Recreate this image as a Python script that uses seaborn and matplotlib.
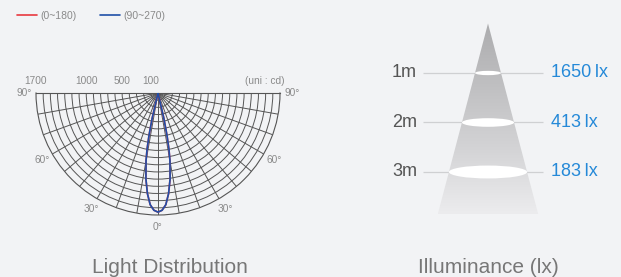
import numpy as np
import pandas as pd
import matplotlib
matplotlib.use("Agg")
import matplotlib.pyplot as plt
from matplotlib.colors import LinearSegmentedColormap
from matplotlib.patches import Polygon, Ellipse
import seaborn as sns

# ---- data -------------------------------------------------------------
BEAM_DEG = [-14, -13, -12, -11, -10, -8, -6, -4, -2, 0,
            2, 4, 6, 8, 10, 11, 12, 13, 14]
CD_0_180 = [0, 360, 600, 800, 960, 1210, 1410, 1560, 1635, 1660,
            1635, 1560, 1410, 1210, 960, 800, 600, 360, 0]
CD_90_270 = [0, 360, 600, 800, 960, 1210, 1410, 1560, 1635, 1660,
             1635, 1560, 1410, 1210, 960, 800, 600, 360, 0]
RING_CD = list(range(100, 1700, 100))
R_MAX = 1700
R_LABELS = [1700, 1000, 500, 100]
ANGLE_LABELS = [-90, -60, -30, 0, 30, 60, 90]

DISTANCES = [1, 2, 3]
DIST_LABELS = ["1m", "2m", "3m"]
LUX = [1650, 413, 183]
BEAM_ANGLE = 29.5      # full cone angle, degrees

# ---- style ------------------------------------------------------------
BG = "#f2f3f5"
GRID = "#555555"
LABEL = "#8a8a8a"
RED = "#e8383f"
BLUE = "#1f4fa8"
VALUE = "#2589d8"
FONT = ["Liberation Sans", "DejaVu Sans"]

sns.set_style("white")
plt.rcParams["font.family"] = FONT

W, H = 621, 277
fig = plt.figure(figsize=(W / 100, H / 100), dpi=100, facecolor=BG)


def px_rect(l, t, r, b):
    return [l / W, 1 - b / H, (r - l) / W, (b - t) / H]


# ---- left: polar light distribution ----------------------------------
# square box, the half disc sits in its middle
axp = fig.add_axes(px_rect(36, 32, 280, 276), projection="polar")
axp.set_facecolor(BG)
axp.set_theta_zero_location("S")
axp.set_thetamin(-90)
axp.set_thetamax(90)

df_red = pd.DataFrame({"theta": np.deg2rad(BEAM_DEG), "cd": CD_0_180})
df_blue = pd.DataFrame({"theta": np.deg2rad(BEAM_DEG), "cd": CD_90_270})
sns.lineplot(data=df_red, x="theta", y="cd", ax=axp, sort=False,
             estimator=None, color=RED, lw=0.7, label="(0~180)", zorder=4)
sns.lineplot(data=df_blue, x="theta", y="cd", ax=axp, sort=False,
             estimator=None, color=BLUE, lw=1.1, label="(90~270)", zorder=5)
handles, labels = axp.get_legend_handles_labels()
axp.get_legend().remove()

axp.set_ylim(0, R_MAX)
axp.set_yticks(RING_CD)
axp.set_yticklabels([])
axp.set_xticks(np.deg2rad(np.arange(-90, 91, 10)))
axp.set_xticklabels([])
axp.tick_params(length=0)
axp.grid(True, color=GRID, lw=0.7)
axp.set_xlabel("")
axp.set_ylabel("")
for sp in axp.spines.values():
    sp.set_color(GRID)
    sp.set_linewidth(0.8)

for a in ANGLE_LABELS:
    axp.text(np.deg2rad(a), 1870, f"{abs(a)}°", ha="center", va="center",
             fontsize=7.3, color=LABEL)
for v in R_LABELS:
    axp.annotate(str(v), xy=(np.deg2rad(-90), v), xytext=(0, 8.9),
                 textcoords="offset points", ha="center", va="center",
                 fontsize=7.3, color=LABEL, annotation_clip=False)
axp.annotate("(uni : cd)", xy=(np.deg2rad(90), 1484), xytext=(0, 8.9),
             textcoords="offset points", ha="center", va="center",
             fontsize=7.3, color=LABEL, annotation_clip=False)

for h in handles:
    h.set_linewidth(1.2)
fig.legend(handles, labels, loc="center left",
           bbox_to_anchor=(17 / W, 1 - 16 / H), ncol=2, frameon=False,
           fontsize=7.5, labelcolor=LABEL, handlelength=1.9,
           handletextpad=0.3, columnspacing=2.3, borderpad=0,
           borderaxespad=0)

# ---- right: illuminance cone -----------------------------------------
S = 49.5                    # px per metre
APEX_X, APEX_Y = 488, 23.5
axr = fig.add_axes(px_rect(380, 10, 621, 220))
axr.set_xlim((380 - APEX_X) / S, (621 - APEX_X) / S)
axr.set_ylim((220 - APEX_Y) / S, (10 - APEX_Y) / S)
axr.axis("off")

slope = np.tan(np.deg2rad(BEAM_ANGLE / 2))
depth = (214 - APEX_Y) / S
half = slope * depth

axr.hlines(DISTANCES, (423 - APEX_X) / S, (543 - APEX_X) / S,
           color="#cfd0d2", lw=0.9, zorder=1)

cone = Polygon([(0, 0), (-half, depth), (half, depth)], closed=True,
               fc="none", ec="none")
axr.add_patch(cone)
cmap = LinearSegmentedColormap.from_list(
    "cone", ["#acacae", "#c0c0c2", "#d4d4d6", "#ececee"])
grad = np.linspace(0, 1, 256).reshape(-1, 1)
img = axr.imshow(grad, cmap=cmap, extent=(-half, half, depth, 0),
                 origin="upper", aspect="auto", zorder=2)
img.set_clip_path(cone)

for d, dl, lx in zip(DISTANCES, DIST_LABELS, LUX):
    w = 2 * slope * d
    axr.add_patch(Ellipse((0, d), w, 0.165 * w, fc="white", ec="none",
                          zorder=3))
    axr.text((417 - APEX_X) / S, d, dl, ha="right", va="center",
             fontsize=13, color="#555555")
    axr.text((551 - APEX_X) / S, d, f"{lx}\u2009lx", ha="left",
             va="center", fontsize=13, color=VALUE)

# ---- titles -----------------------------------------------------------
fig.text(170 / W, 1 - 273 / H, "Light Distribution", ha="center",
         va="baseline", fontsize=15, color="#777777")
fig.text(488 / W, 1 - 273 / H, "Illuminance (lx)", ha="center",
         va="baseline", fontsize=15, color="#777777")

fig.savefig("out.png", dpi=100, facecolor=BG)
